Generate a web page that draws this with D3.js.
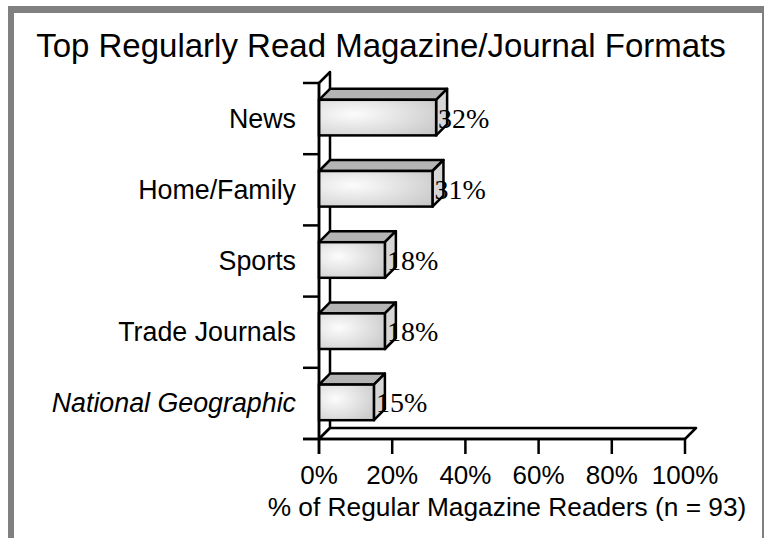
<!DOCTYPE html>
<html><head><meta charset="utf-8">
<script src="https://cdn.jsdelivr.net/npm/d3@7"></script>
<style>body{margin:0;background:#fff}svg{display:block}
.sans{font-family:'Liberation Sans',Arial,sans-serif}
.serif{font-family:'Liberation Serif','Times New Roman',serif}</style>
</head><body>
<script>
const categories = ["News", "Home/Family", "Sports", "Trade Journals", "National Geographic"];
const italicCats = ["National Geographic"];
const values = [32, 31, 18, 18, 15];
const xTicks = [0, 20, 40, 60, 80, 100];
const title = "Top Regularly Read Magazine/Journal Formats";
const xTitle = "% of Regular Magazine Readers (n = 93)";

const W = 766, H = 538, D = 11;
const svg = d3.select("body").append("svg").attr("width", W).attr("height", H);

// frame
svg.append("rect").attr("x", 8).attr("y", 6).attr("width", 756).attr("height", 7).attr("fill", "#808080");
svg.append("rect").attr("x", 8).attr("y", 6).attr("width", 6).attr("height", H).attr("fill", "#808080");
svg.append("rect").attr("x", 762).attr("y", 6).attr("width", 2).attr("height", H).attr("fill", "#808080");

const defs = svg.append("defs");
const g = defs.append("radialGradient").attr("id", "face").attr("cx", "30%").attr("cy", "40%").attr("r", "85%");
g.append("stop").attr("offset", "0%").attr("stop-color", "#fcfcfc");
g.append("stop").attr("offset", "100%").attr("stop-color", "#c8c8c8");

const x = d3.scaleLinear().domain([0, 100]).range([319, 685]);
const y = d3.scaleBand().domain(categories).range([83, 439]).paddingInner(0.5).paddingOuter(0.25);
const x0 = x(0), yTop = 83, yBot = 439;

svg.append("text").attr("class", "sans").attr("x", 381).attr("y", 57).attr("text-anchor", "middle")
  .attr("font-size", 33).text(title);

// wall
svg.append("path").attr("d", `M${x0},${yTop}L${x0 + D},${yTop - D}L${x0 + D},${yBot - D}L${x0},${yBot}Z`)
  .attr("fill", "#fff").attr("stroke", "#000").attr("stroke-width", 2.5).attr("stroke-linejoin", "round");
// floor
svg.append("path").attr("d", `M${x0},${yBot}L${x(100)},${yBot}L${x(100) + D},${yBot - D}L${x0 + D},${yBot - D}Z`)
  .attr("fill", "#fff").attr("stroke", "#000").attr("stroke-width", 2.5).attr("stroke-linejoin", "round");

const bars = svg.append("g").selectAll("g").data(categories).join("g");
bars.each(function (c, i) {
  const gg = d3.select(this);
  const x1 = x(values[i]);
  const y0 = y(c) - 1, y1 = y0 + y.bandwidth();
  gg.append("path").attr("d", `M${x0},${y0}L${x0 + D},${y0 - D}L${x1 + D},${y0 - D}L${x1},${y0}Z`)
    .attr("fill", "#b4b4b4").attr("stroke", "#000").attr("stroke-width", 2.5).attr("stroke-linejoin", "round");
  gg.append("path").attr("d", `M${x1},${y0}L${x1 + D},${y0 - D}L${x1 + D},${y1 - D}L${x1},${y1}Z`)
    .attr("fill", "#d6d6d6").attr("stroke", "#000").attr("stroke-width", 2.5).attr("stroke-linejoin", "round");
  gg.append("rect").attr("x", x0).attr("y", y0).attr("width", x1 - x0).attr("height", y1 - y0)
    .attr("fill", "url(#face)").attr("stroke", "#000").attr("stroke-width", 2.5);
  gg.append("text").attr("class", "serif").attr("x", x1 + 2).attr("y", (y0 + y1) / 2 + 10)
    .attr("font-size", 28).text(values[i] + "%");
  gg.append("text").attr("class", "sans").attr("x", 296).attr("y", y(c) + y.bandwidth() / 2 + 9)
    .attr("text-anchor", "end")
    .attr("font-size", 26.8).attr("font-style", italicCats.includes(c) ? "italic" : "normal").text(c);
});

// axes lines
svg.append("line").attr("x1", x0).attr("x2", x0).attr("y1", yTop).attr("y2", yBot + 15)
  .attr("stroke", "#000").attr("stroke-width", 2.5);
svg.append("line").attr("x1", x0 - 16).attr("x2", x(100)).attr("y1", yBot).attr("y2", yBot)
  .attr("stroke", "#000").attr("stroke-width", 2.5);
const step = y.step();
d3.range(categories.length + 1).forEach(i => {
  const yy = yTop + i * step;
  svg.append("line").attr("x1", x0 - 16).attr("x2", x0).attr("y1", yy).attr("y2", yy)
    .attr("stroke", "#000").attr("stroke-width", 2.5);
});
const xa = svg.append("g");
xa.selectAll("line").data(xTicks).join("line")
  .attr("x1", d => x(d)).attr("x2", d => x(d)).attr("y1", yBot).attr("y2", yBot + 15)
  .attr("stroke", "#000").attr("stroke-width", 2.5);
xa.selectAll("text").data(xTicks).join("text").attr("class", "sans")
  .attr("x", d => x(d)).attr("y", 484).attr("text-anchor", "middle")
  .attr("font-size", 26)
  .text(d => d + "%");
svg.append("text").attr("class", "sans").attr("x", 507).attr("y", 516).attr("text-anchor", "middle")
  .attr("font-size", 26.3).text(xTitle);
</script>
</body></html>
